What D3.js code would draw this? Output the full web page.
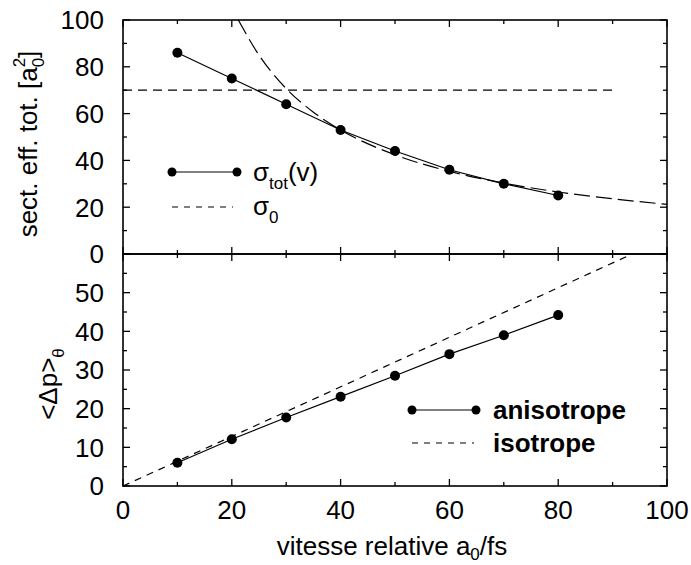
<!DOCTYPE html>
<html>
<head>
<meta charset="utf-8">
<script src="https://cdn.jsdelivr.net/npm/d3@7"></script>
<style>
  body { margin: 0; background: #fff; }
  svg { font-family: "Liberation Sans", Arial, sans-serif; }
</style>
</head>
<body>
<script>
// values
var velocity = [10, 20, 30, 40, 50, 60, 70, 80];
var sigmaTot = [86, 75, 64, 53, 44, 36, 30, 25];
var sigma0 = 70, sigma0Span = [0, 90];
var curveV = [21.2, 25, 30, 35, 40, 50, 60, 70, 80, 90, 100];
var curveSigma = [100, 85, 70.7, 60.6, 53, 42.4, 35.3, 30.3, 26.5, 23.6, 21.2];
var dpAniso = [6.0, 12.1, 17.7, 23.1, 28.5, 34.1, 39.0, 44.2];
var isoV = [0, 93.6];
var isoDp = [0, 60];
var xTicks = [0, 20, 40, 60, 80, 100];
var topTicks = [0, 20, 40, 60, 80, 100];
var botTicks = [0, 10, 20, 30, 40, 50];

var W = 691, H = 565;
var svg = d3.select('body').append('svg').attr('width', W).attr('height', H);

var x = d3.scaleLinear().domain([0, 100]).range([123, 667]);
var yTop = d3.scaleLinear().domain([0, 100]).range([254, 20]);
var yBot = d3.scaleLinear().domain([0, 60]).range([486, 254]);

var FS = 26;

// panel box with inward ticks on all four sides
function frame(y, yMajor, yMinor, labels) {
  var g = svg.append('g');
  var y0 = y.range()[0], y1 = y.range()[1];
  d3.range(0, 101, 10).forEach(function (v) {
    var len = v % 20 === 0 ? 7 : 4;
    g.append('line').attr('x1', x(v)).attr('x2', x(v)).attr('y1', y0).attr('y2', y0 - len);
    g.append('line').attr('x1', x(v)).attr('x2', x(v)).attr('y1', y1).attr('y2', y1 + len);
  });
  d3.range(y.domain()[0], y.domain()[1] + 0.01, yMinor).forEach(function (v) {
    var len = Math.abs(v % yMajor) < 1e-6 ? 7 : 4;
    g.append('line').attr('x1', x(0)).attr('x2', x(0) + len).attr('y1', y(v)).attr('y2', y(v));
    g.append('line').attr('x1', x(100)).attr('x2', x(100) - len).attr('y1', y(v)).attr('y2', y(v));
  });
  g.selectAll('line').attr('stroke', '#000').attr('stroke-width', 1.3);
  g.append('rect').attr('x', x(0)).attr('y', y1).attr('width', x(100) - x(0)).attr('height', y0 - y1)
    .attr('fill', 'none').attr('stroke', '#000').attr('stroke-width', 1.6);
  g.selectAll('text.yl').data(labels).enter().append('text')
    .attr('x', 104).attr('y', function (d) { return y(d); }).attr('dy', '0.36em')
    .attr('text-anchor', 'end').attr('font-size', FS).text(function (d) { return d; });
}

frame(yTop, 20, 10, topTicks);
frame(yBot, 10, 5, botTicks);

// x tick labels
svg.selectAll('text.xl').data(xTicks).enter().append('text')
  .attr('x', function (d) { return x(d); }).attr('y', 519)
  .attr('text-anchor', 'middle').attr('font-size', FS).text(function (d) { return d; });

// ---- top panel
var topPts = velocity.map(function (v, i) { return [v, sigmaTot[i]]; });
var lineTop = d3.line().x(function (d) { return x(d[0]); }).y(function (d) { return yTop(d[1]); });
svg.append('path').datum(sigma0Span.map(function (v) { return [v, sigma0]; }))
  .attr('d', lineTop).attr('fill', 'none').attr('stroke', '#000').attr('stroke-width', 1.2)
  .attr('stroke-dasharray', '9,6');
svg.append('path').datum(curveV.map(function (v, i) { return [v, curveSigma[i]]; }))
  .attr('d', lineTop.curve(d3.curveMonotoneX)).attr('fill', 'none').attr('stroke', '#000').attr('stroke-width', 1.2)
  .attr('stroke-dasharray', '16,6');
lineTop.curve(d3.curveLinear);
svg.append('path').datum(topPts).attr('d', lineTop).attr('fill', 'none').attr('stroke', '#000').attr('stroke-width', 1.2);
svg.selectAll('circle.t').data(topPts).enter().append('circle')
  .attr('cx', function (d) { return x(d[0]); }).attr('cy', function (d) { return yTop(d[1]); })
  .attr('r', 5).attr('fill', '#000');

// ---- bottom panel
var botPts = velocity.map(function (v, i) { return [v, dpAniso[i]]; });
var lineBot = d3.line().x(function (d) { return x(d[0]); }).y(function (d) { return yBot(d[1]); });
svg.append('path').datum(isoV.map(function (v, i) { return [v, isoDp[i]]; }))
  .attr('d', lineBot).attr('fill', 'none').attr('stroke', '#000').attr('stroke-width', 1.2)
  .attr('stroke-dasharray', '7,6');
svg.append('path').datum(botPts).attr('d', lineBot).attr('fill', 'none').attr('stroke', '#000').attr('stroke-width', 1.2);
svg.selectAll('circle.b').data(botPts).enter().append('circle')
  .attr('cx', function (d) { return x(d[0]); }).attr('cy', function (d) { return yBot(d[1]); })
  .attr('r', 5).attr('fill', '#000');

// ---- legends
function legendRow(x1, x2, y, dashed) {
  svg.append('line').attr('x1', x1).attr('x2', x2).attr('y1', y).attr('y2', y)
    .attr('stroke', '#000').attr('stroke-width', 1.2)
    .attr('stroke-dasharray', dashed ? '6,6' : null);
  if (!dashed) {
    [x1, x2].forEach(function (cx) {
      svg.append('circle').attr('cx', cx).attr('cy', y).attr('r', 4.5).attr('fill', '#000');
    });
  }
}
legendRow(172, 237, 172, false);
legendRow(172, 233, 207, true);
var t1 = svg.append('text').attr('x', 253).attr('y', 181).attr('font-size', FS);
t1.append('tspan').text('σ');
t1.append('tspan').attr('font-size', 17).attr('dy', 8).text('tot');
t1.append('tspan').attr('dy', -8).text('(v)');
var t2 = svg.append('text').attr('x', 253).attr('y', 215).attr('font-size', FS);
t2.append('tspan').text('σ');
t2.append('tspan').attr('font-size', 17).attr('dy', 8).text('0');

legendRow(412, 476, 410, false);
legendRow(412, 474, 443, true);
svg.append('text').attr('x', 493).attr('y', 419).attr('font-size', FS).attr('font-weight', 'bold').text('anisotrope');
svg.append('text').attr('x', 493).attr('y', 452).attr('font-size', FS).attr('font-weight', 'bold').text('isotrope');

// ---- axis titles
var xt = svg.append('text').attr('x', 392).attr('y', 555).attr('text-anchor', 'middle').attr('font-size', FS);
xt.append('tspan').text('vitesse relative a');
xt.append('tspan').attr('font-size', 17).attr('dy', 5).text('0');
xt.append('tspan').attr('dy', -5).text('/fs');

var yt1 = svg.append('text').attr('transform', 'translate(37,144) rotate(-90)')
  .attr('text-anchor', 'middle').attr('font-size', FS);
yt1.append('tspan').text('sect. eff. tot. [a');
yt1.append('tspan').attr('font-size', 17).attr('dy', 7).text('0');
yt1.append('tspan').attr('font-size', 17).attr('dx', -9.5).attr('dy', -19).text('2');
yt1.append('tspan').attr('dy', 12).text(']');

var yt2 = svg.append('text').attr('transform', 'translate(57,384) rotate(-90)')
  .attr('text-anchor', 'middle').attr('font-size', FS);
yt2.append('tspan').text('<Δp>');
yt2.append('tspan').attr('font-size', 17).attr('dy', 7).text('θ');
</script>
</body>
</html>
